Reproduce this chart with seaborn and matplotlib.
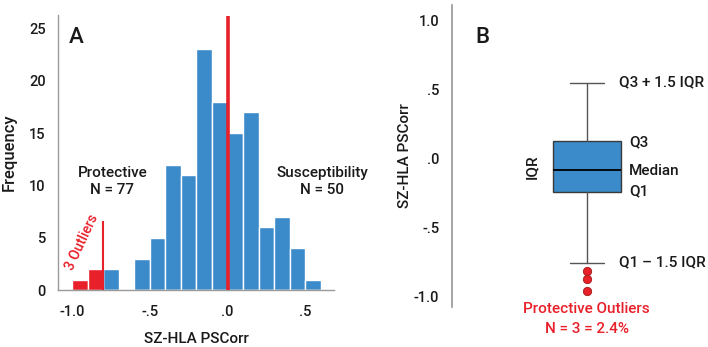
import matplotlib
matplotlib.use("Agg")
import matplotlib.pyplot as plt
import seaborn as sns
import pandas as pd

# ---------------- data ----------------
bin_edges = [-1.0, -0.9, -0.8, -0.7, -0.6, -0.5, -0.4, -0.3, -0.2, -0.1,
             0.0, 0.1, 0.2, 0.3, 0.4, 0.5, 0.6]
bin_counts = [1, 2, 2, 0, 3, 5, 12, 11, 23, 18, 15, 17, 6, 7, 4, 1]
bin_group = ["Outlier", "Outlier"] + ["Main"] * 14

outlier_cut = -0.8
outlier_line_top = 6.6

x_ticks_a = [-1.0, -0.5, 0.0, 0.5]
x_ticklabels_a = ["-1.0", "-.5", ".0", ".5"]
y_ticks_a = [0, 5, 10, 15, 20, 25]

box_q1 = -0.247
box_median = -0.085
box_q3 = 0.126
whisker_low = -0.758
whisker_high = 0.549
outlier_values = [-0.816, -0.874, -0.960]

y_ticks_b = [-1.0, -0.5, 0.0, 0.5, 1.0]
y_ticklabels_b = ["-1.0", "-.5", ".0", ".5", "1.0"]

BLUE = "#3b8bcb"
RED = "#e8202a"
SPINE = "#9a9a9a"
TEXT = "#1a1a1a"

sns.set_theme(style="white")
plt.rcParams["font.family"] = ["Roboto", "DejaVu Sans"]
plt.rcParams["font.weight"] = "medium"
plt.rcParams["axes.labelweight"] = "medium"

fig = plt.figure(figsize=(7.08, 3.47), dpi=100)

# ---------------- panel A ----------------
axA = fig.add_axes([0.082, 0.164, 0.390, 0.793])
centers = [(bin_edges[i] + bin_edges[i + 1]) / 2 for i in range(len(bin_counts))]
df = pd.DataFrame({"center": centers, "count": bin_counts, "group": bin_group})
sns.histplot(data=df, x="center", weights="count", hue="group", bins=bin_edges,
             palette={"Main": BLUE, "Outlier": RED}, multiple="layer",
             alpha=1, edgecolor="white", linewidth=1.0, legend=False, ax=axA)

axA.set_xlim(-1.09, 0.686)
axA.set_ylim(0, 26.3)
axA.vlines(0.0, 0, 26.15, color=RED, linewidth=2.6, zorder=5)
axA.vlines(outlier_cut, 0, outlier_line_top, color=RED, linewidth=1.5, zorder=5)

axA.set_xticks(x_ticks_a)
axA.set_xticklabels(x_ticklabels_a)
axA.set_yticks(y_ticks_a)
axA.tick_params(axis="both", which="both", direction="out", length=5, width=1,
                color=SPINE, labelsize=10.5, labelcolor=TEXT, pad=4)
axA.tick_params(axis="x", pad=6)
for s in ["top", "right"]:
    axA.spines[s].set_visible(False)
for s in ["left", "bottom"]:
    axA.spines[s].set_color(SPINE)
    axA.spines[s].set_linewidth(1)
axA.set_xlabel("SZ-HLA PSCorr", fontsize=11, color=TEXT, labelpad=9)
axA.set_ylabel("Frequency", fontsize=12, color=TEXT, labelpad=9)

axA.text(-1.02, 24.1, "A", fontsize=16, color=TEXT, ha="left", va="center")
axA.text(-0.74, 10.4, "Protective\nN = 77", fontsize=11, color=TEXT,
         ha="center", va="center", linespacing=1.3)
axA.text(0.61, 10.4, "Susceptibility\nN = 50", fontsize=11, color=TEXT,
         ha="center", va="center", linespacing=1.3, clip_on=False)
axA.text(-0.935, 4.6, "3 Outliers", fontsize=10, color=RED, rotation=65,
         ha="center", va="center")

# ---------------- panel B ----------------
axB = fig.add_axes([0.638, 0.115, 0.35, 0.871])
stats = [{"med": box_median, "q1": box_q1, "q3": box_q3,
          "whislo": whisker_low, "whishi": whisker_high,
          "fliers": outlier_values}]
axB.bxp(stats, positions=[0], widths=0.5, patch_artist=True, capwidths=0.25,
        boxprops=dict(facecolor=BLUE, edgecolor="#3a3a3a", linewidth=1),
        medianprops=dict(color="black", linewidth=1.3),
        whiskerprops=dict(color="#555555", linewidth=1),
        capprops=dict(color="#555555", linewidth=1),
        flierprops=dict(marker="o", markerfacecolor=RED, markeredgecolor="#a01818",
                        markeredgewidth=0.6, markersize=6))
axB.set_xlim(-0.993, 0.83)
axB.set_ylim(-1.08, 1.114)
axB.set_yticks(y_ticks_b)
axB.set_yticklabels(y_ticklabels_b)
axB.set_xticks([])
axB.tick_params(axis="y", direction="out", length=5, width=1, color=SPINE,
                labelsize=10.5, labelcolor=TEXT, pad=4)
for s in ["top", "right", "bottom"]:
    axB.spines[s].set_visible(False)
axB.spines["left"].set_color(SPINE)
axB.set_ylabel("SZ-HLA PSCorr", fontsize=11, color=TEXT, labelpad=1)

axB.text(-0.82, 0.88, "B", fontsize=16, color=TEXT, ha="left", va="center")
axB.text(0.24, whisker_high, "Q3 + 1.5 IQR", fontsize=11, color=TEXT,
         ha="left", va="center")
axB.text(0.31, box_q3 - 0.01, "Q3", fontsize=11, color=TEXT, ha="left", va="center")
axB.text(0.31, box_median - 0.005, "Median", fontsize=11, color=TEXT,
         ha="left", va="center")
axB.text(0.31, box_q1 + 0.01, "Q1", fontsize=11, color=TEXT, ha="left", va="center")
axB.text(0.24, whisker_low, "Q1 \u2013 1.5 IQR", fontsize=11, color=TEXT,
         ha="left", va="center")
axB.text(-0.40, (box_q1 + box_q3) / 2, "IQR", fontsize=11, color=TEXT,
         rotation=90, ha="center", va="center")
axB.text(0.0, -1.094, "Protective Outliers", fontsize=11, color=RED,
         ha="center", va="center", clip_on=False)
axB.text(0.0, -1.24, "N = 3 = 2.4%", fontsize=11, color=RED,
         ha="center", va="center", clip_on=False)

fig.savefig("out.png", dpi=100)
